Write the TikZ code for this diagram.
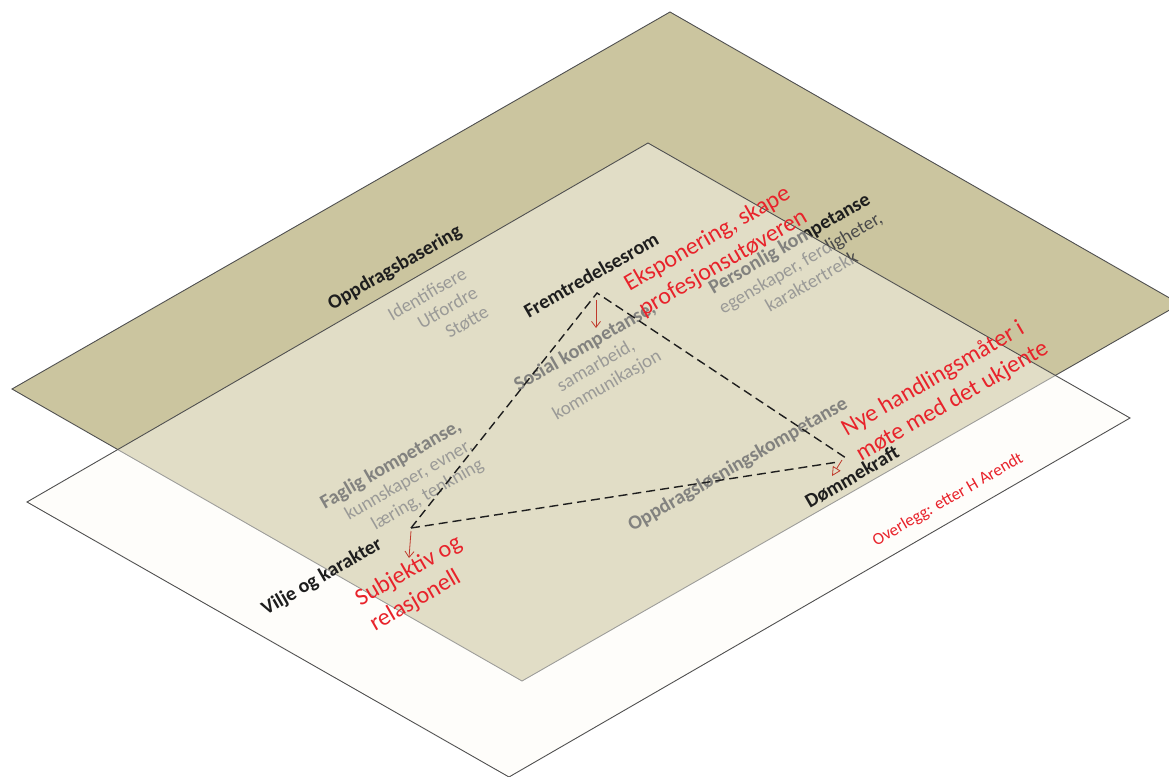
\documentclass[tikz,border=0pt]{standalone}
\usepackage{fontspec}
\setmainfont{Carlito}
\usetikzlibrary{arrows.meta}
\definecolor{planeD}{HTML}{CBC59F}
\definecolor{planeW}{HTML}{FDFCF6}
\definecolor{edgec}{HTML}{505050}
\definecolor{redtxt}{HTML}{E8232B}
\definecolor{redarr}{HTML}{C0392B}
\definecolor{subgray}{HTML}{4A4A4A}
\definecolor{inkc}{HTML}{1E1E1E}
\tikzset{
  lbl/.style={rotate=30, anchor=center, inner sep=0pt},
  hd/.style={lbl, text=inkc, font=\fontsize{20}{22}\selectfont\bfseries},
  blk/.style={lbl, text=inkc, font=\fontsize{20}{22}\selectfont},
  rd/.style={lbl, text=redtxt, font=\fontsize{24}{29}\selectfont, align=left},
  rdsmall/.style={lbl, text=redtxt, font=\fontsize{17}{20}\selectfont},
  dsh/.style={dash pattern=on 9pt off 5pt, line width=1.4pt, draw=inkc},
  rarr/.style={draw=redarr, line width=0.8pt, -{Straight Barb[length=6pt,width=9pt]}},
  rtri/.style={draw=redarr, line width=0.8pt, -{Triangle[open,length=9pt,width=9pt]}},
  plane/.style={draw=edgec, line width=0.9pt, line join=miter},
}
\newcommand{\subl}[1]{{\mdseries\color{subgray}\fontsize{19}{22}\selectfont #1}}
\begin{document}
\begin{tikzpicture}[x=1pt,y=1pt]
\path[use as bounding box, fill=white] (0,0) rectangle (1169,-776);
% dark plane
\coordinate (D1) at (670,-12);
\coordinate (D2) at (1180,-304);
\coordinate (D3) at (522,-681);
\coordinate (D4) at (12,-389);
\path[plane, fill=planeD] (D1) -- (D2) -- (D3) -- (D4) -- cycle;
% texts lying on the dark plane (under the white overlay)
\node[blk, align=center] (pers) at (800,-262)
  {\bfseries Personlig kompetanse\\ \subl{egenskaper, ferdigheter,}\\ \subl{karaktertrekk}};
\node[blk, align=center] (sos) at (596,-366)
  {\bfseries Sosial kompetanse,\\ \subl{samarbeid,}\\ \subl{kommunikasjon}};
\node[blk, align=right] (fag) at (402,-484)
  {\bfseries Faglig kompetanse,\\ \subl{kunnskaper, evner,}\\ \subl{læring, tenkning}};
\node[blk, align=right] (ids) at (438,-313)
  {\subl{Identifisere}\\ \subl{Utfordre}\\ \subl{Støtte}};
\node[hd] (oppl) at (738,-465) {Oppdragsløsningskompetanse};
% white overlay plane
\coordinate (W1) at (648,-143);
\coordinate (W2) at (1130,-418);
\coordinate (W3) at (509,-777);
\coordinate (W4) at (27,-502);
\path[plane, fill=planeW, fill opacity=0.45] (W1) -- (W2) -- (W3) -- (W4) -- cycle;
% top texts
\node[hd] (oppb) at (395,-268) {Oppdragsbasering};
\node[hd] (frem) at (591,-275) {Fremtredelsesrom};
\node[hd] (domm) at (852,-477) {Dømmekraft};
\node[hd] (vilje) at (322,-577) {Vilje og karakter};
\node[rd] (eksp) at (716,-251) {Eksponering, skape\\profesjonsutøveren};
\node[rd] (nye) at (945,-389) {Nye handlingsmåter i\\møte med det ukjente};
\node[rd] (subj) at (416,-584) {Subjektiv og\\relasjonell};
\node[rdsmall] (overl) at (948,-500) {Overlegg: etter H Arendt};
% dashed triangle
\coordinate (A) at (597,-293);
\coordinate (B) at (411,-528);
\coordinate (C) at (846,-458);
\coordinate (Cb) at (838,-462);
\draw[dsh] (B) -- (A) -- (C);
\draw[dsh] (B) -- (Cb);
% red arrows
\coordinate (a1) at (596,-300);
\coordinate (a2) at (596,-328);
\coordinate (b1) at (411,-531);
\coordinate (b2) at (409,-558);
\coordinate (c1) at (842,-460);
\coordinate (c2) at (832,-476);
\draw[rarr] (a1) -- (a2);
\draw[rarr] (b1) -- (b2);
\draw[rtri] (c1) -- (c2);
\end{tikzpicture}
\end{document}
